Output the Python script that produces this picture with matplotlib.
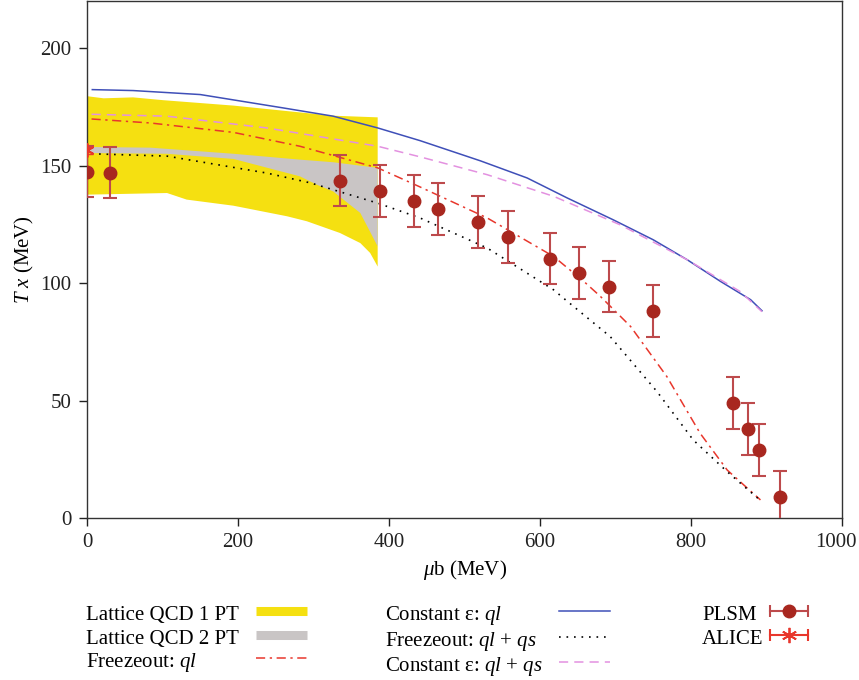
import numpy as np
import matplotlib
matplotlib.use("Agg")
import matplotlib.pyplot as plt
import matplotlib.transforms as mtransforms
from matplotlib.lines import Line2D
from matplotlib.legend_handler import HandlerLine2D, HandlerTuple

plt.rcParams["font.family"] = ["Liberation Serif", "DejaVu Serif"]
plt.rcParams["mathtext.fontset"] = "custom"
plt.rcParams["mathtext.rm"] = "Liberation Serif"
plt.rcParams["mathtext.it"] = "Liberation Serif:italic"

# ── Lattice QCD bands ──────────────────────────────────────
lat1_up_mu = [0, 22, 61, 101, 194, 282, 326, 385]
lat1_up_t = [179.5, 178.6, 179.0, 177.8, 175.5, 172.6, 171.2, 170.5]
lat1_lo_mu = [0, 106, 132, 194, 265, 291, 335, 362, 375, 385]
lat1_lo_t = [137.6, 138.3, 135.5, 132.9, 128.4, 126.3, 121.3, 117.0, 112.8, 107.0]

lat2_up_mu = [0, 84, 194, 282, 326, 385]
lat2_up_t = [157.9, 157.6, 155.0, 152.5, 151.4, 149.0]
lat2_lo_mu = [0, 106, 194, 282, 304, 326, 362, 385]
lat2_lo_t = [155.3, 155.0, 152.8, 145.4, 141.9, 139.0, 129.8, 115.6]

# ── model curves ───────────────────────────────────────────
ce_ql_mu = [7, 61, 150, 260, 326, 385, 441, 521, 583, 636, 697, 750, 795, 839, 879, 894]
ce_ql_t = [182.3, 181.9, 180.2, 174.5, 171.0, 166.0, 160.6, 152.0, 144.7, 136.2,
           126.9, 118.4, 109.9, 100.7, 92.9, 88.2]

ce_qlqs_mu = [6, 106, 238, 385, 441, 530, 618, 706, 795, 865, 894]
ce_qlqs_t = [171.8, 171.0, 166.0, 158.2, 153.7, 146.1, 136.9, 124.8, 109.9, 96.4, 87.8]

fz_ql_mu = [6, 84, 194, 282, 385, 441, 530, 618, 658, 680, 720, 768, 812, 848, 892]
fz_ql_t = [169.8, 168.1, 164.1, 158.2, 149.0, 140.9, 127.7, 111.3, 100.7, 94.3,
           81.5, 60.2, 36.1, 20.4, 7.7]

fz_qlqs_mu = [6, 106, 238, 296, 385, 441, 530, 618, 631, 693, 755, 803, 848, 894]
fz_qlqs_t = [155.0, 154.0, 146.8, 142.6, 134.0, 127.7, 114.9, 97.1, 93.6, 77.2,
             53.8, 33.2, 19.7, 6.9]

# ── points ─────────────────────────────────────────────────
plsm_mu = [0, 30, 335, 388, 433, 465, 518, 557, 613, 652, 692, 750, 855, 876, 890, 918]
plsm_t = [147.4, 147.0, 143.6, 139.3, 135.0, 131.6, 126.0, 119.7, 110.4, 104.4,
          98.5, 88.2, 49.0, 37.9, 28.8, 9.1]
plsm_err = [11] * len(plsm_mu)

alice_mu = [0]
alice_t = [156.5]
alice_err = [1.5]

YELLOW = "#f5e011"
GRAY = "#c9c5c5"
BLUE = "#3f4fb8"
PINK = "#e391e0"
RED = "#e8372c"
DARKRED = "#a8271f"
BARRED = "#bd4a4c"

FZ_QL_LS = (0, (6, 3, 1.5, 3))
CE_QLQS_LS = (0, (6, 4))
FZ_QLQS_LS = (0, (1, 3.5))

fig = plt.figure(figsize=(8.59, 6.8), dpi=100)
ax = fig.add_axes([0.1013, 0.2382, 0.8789, 0.7603])

ax.fill(lat1_up_mu + lat1_lo_mu[::-1], lat1_up_t + lat1_lo_t[::-1],
        color=YELLOW, lw=0, zorder=1)
ax.fill(lat2_up_mu + lat2_lo_mu[::-1], lat2_up_t + lat2_lo_t[::-1],
        color=GRAY, lw=0, zorder=2)

ax.plot(ce_ql_mu, ce_ql_t, color=BLUE, lw=1.1, zorder=3)
ax.plot(ce_qlqs_mu, ce_qlqs_t, color=PINK, lw=1.1, ls=CE_QLQS_LS, zorder=3)
ax.plot(fz_ql_mu, fz_ql_t, color=RED, lw=1.1, ls=FZ_QL_LS, zorder=3)
ax.plot(fz_qlqs_mu, fz_qlqs_t, color="black", lw=1.2, ls=FZ_QLQS_LS, zorder=3)

ax.errorbar(plsm_mu, plsm_t, yerr=plsm_err, fmt="o", color=DARKRED, ms=9,
            ecolor=BARRED, elinewidth=1.5, capsize=5, capthick=1.5, zorder=4)
ax.errorbar(alice_mu, alice_t, yerr=alice_err, fmt="none", ecolor=RED,
            elinewidth=1.2, capsize=4, zorder=5)
ax.plot(alice_mu, alice_t, ls="none", marker=(6, 2, 0), ms=10, mew=1.3,
        color=RED, zorder=5)

ax.set_xlim(0, 1000)
ax.set_ylim(0, 220)
ax.set_xticks([0, 200, 400, 600, 800, 1000])
ax.set_yticks([0, 50, 100, 150, 200])
ax.tick_params(direction="out", length=6, width=1, labelsize=15, pad=5,
               colors="#222222", top=False, right=False)
for sp in ax.spines.values():
    sp.set_color("#333333")
    sp.set_linewidth(1)
ax.set_xlabel(r"$\mu$b (MeV)", fontsize=15, labelpad=4)
ax.set_ylabel(r"$T\ x$ (MeV)", fontsize=15, labelpad=3.5)

# keep "1000" inside the figure
last = ax.get_xticklabels()[-1]
last.set_transform(last.get_transform()
                   + mtransforms.ScaledTranslation(-6 / 100, 0, fig.dpi_scale_trans))

# ── legend (three columns, text left, key right) ───────────
h_lat1 = Line2D([], [], color=YELLOW, lw=6.5, solid_capstyle="butt")
h_lat2 = Line2D([], [], color=GRAY, lw=6.5, solid_capstyle="butt")
h_fz_ql = Line2D([], [], color=RED, lw=1.1, ls=FZ_QL_LS)
h_ce_ql = Line2D([], [], color=BLUE, lw=1.1)
h_fz_qlqs = Line2D([], [], color="black", lw=1.2, ls=FZ_QLQS_LS)
h_ce_qlqs = Line2D([], [], color=PINK, lw=1.1, ls=CE_QLQS_LS)
plsm_bar = Line2D([], [], color=BARRED, lw=1.5, marker="|", ms=9, mew=1.5)
plsm_dot = Line2D([], [], color=DARKRED, ls="none", marker="o", ms=9)
alice_bar = Line2D([], [], color=RED, lw=1.5, marker="|", ms=9, mew=1.5)
alice_dot = Line2D([], [], color=RED, ls="none", marker=(6, 2, 0), ms=11, mew=1.3)

# handles, labels, left x of the texts (px), extra key gap (pt)
columns = [
    ([h_lat1, h_lat2, h_fz_ql],
     ["Lattice QCD 1 PT", "Lattice QCD 2 PT", r"Freezeout: $ql$"], 86, 0),
    ([h_ce_ql, h_fz_qlqs, h_ce_qlqs],
     [r"Constant ε: $ql$", r"Freezeout: $ql$ + $qs$", r"Constant ε: $ql$ + $qs$"], 385, 0),
    ([(plsm_bar, plsm_dot), (alice_bar, alice_dot)], ["PLSM", "ALICE"], 702, -12),
]
hmap = {plsm_bar: HandlerLine2D(numpoints=2),
        alice_bar: HandlerLine2D(numpoints=2),
        plsm_dot: HandlerLine2D(numpoints=1),
        alice_dot: HandlerLine2D(numpoints=1),
        tuple: HandlerTuple(ndivide=1, pad=0)}

legends = []
for hs, ls, x_px, extra in columns:
    leg = fig.legend(hs, ls, loc="upper left", bbox_to_anchor=(x_px / 859, 1 - 602 / 680),
                     frameon=False, markerfirst=False, fontsize=15, handlelength=2.45,
                     handleheight=1.32, handletextpad=0.8, labelspacing=0.0,
                     borderpad=0, borderaxespad=0, handler_map=hmap)
    legends.append((leg, extra))

# line up the keys of each column while keeping the texts left-aligned
fig.canvas.draw()
renderer = fig.canvas.get_renderer()
for leg, extra in legends:
    widths = [t.get_window_extent(renderer).width for t in leg.get_texts()]
    wmax = max(widths)
    items = [it for col in leg._legend_handle_box.get_children()
             for it in col.get_children()]
    for it, w in zip(items, widths):
        it.sep = 0.8 * 15 + extra + (wmax - w) * 72 / fig.dpi

fig.savefig("out.png", dpi=100)
